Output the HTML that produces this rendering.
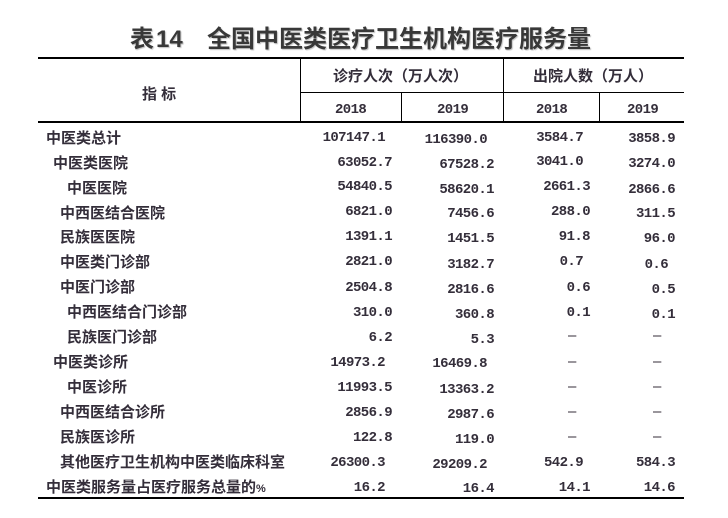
<!DOCTYPE html>
<html>
<head>
<meta charset="utf-8">
<style>
html,body{margin:0;padding:0;background:#fff;}
body{width:728px;height:518px;position:relative;overflow:hidden;}
.t{position:absolute;white-space:nowrap;font-family:"Liberation Sans","Noto Sans CJK SC",sans-serif;font-weight:bold;color:#383838;font-size:24px;line-height:24px;text-shadow:1px 1px 1px rgba(0,0,0,0.25);}
.l{position:absolute;white-space:nowrap;font-family:"Liberation Sans","Noto Sans CJK SC",sans-serif;font-weight:bold;color:#342e3a;font-size:15px;line-height:15px;}
.n{position:absolute;white-space:nowrap;font-family:"Liberation Mono",monospace;font-weight:bold;color:#342e3a;font-size:14px;line-height:13px;letter-spacing:-0.6px;text-align:right;}
.d{position:absolute;white-space:nowrap;font-family:"Liberation Sans",sans-serif;color:#342e3a;font-size:15px;line-height:15px;}
.h{position:absolute;background:#000;height:1px;}
.v{position:absolute;background:#000;width:1px;}
</style>
</head>
<body>
<!-- title -->
<div class="t" style="left:130px;top:28px;">表</div>
<div class="t" style="left:156px;top:28px;">14</div>
<div class="t" style="left:207px;top:28px;">全国中医类医疗卫生机构医疗服务量</div>

<!-- lines -->
<div class="h" style="left:38px;top:57px;width:646px;height:2px;"></div>
<div class="h" style="left:300px;top:92px;width:384px;"></div>
<div class="h" style="left:38px;top:121px;width:646px;height:2px;"></div>
<div class="h" style="left:38px;top:497px;width:646px;height:2px;"></div>
<div class="v" style="left:300px;top:58px;height:64px;"></div>
<div class="v" style="left:503px;top:58px;height:64px;"></div>
<div class="v" style="left:401px;top:92px;height:30px;"></div>
<div class="v" style="left:599px;top:92px;height:30px;"></div>

<!-- header -->
<div class="l" style="left:142px;top:87px;">指 标</div>
<div class="l" style="left:333px;top:69px;">诊疗人次（万人次）</div>
<div class="l" style="left:533px;top:69px;">出院人数（万人）</div>
<div class="n" style="left:335px;top:104px;">2018</div>
<div class="n" style="left:437px;top:104px;">2019</div>
<div class="n" style="left:536px;top:104px;">2018</div>
<div class="n" style="left:627px;top:104px;">2019</div>

<!-- labels -->
<div class="l" style="left:46px;top:131px;">中医类总计</div>
<div class="l" style="left:53px;top:156px;">中医类医院</div>
<div class="l" style="left:67px;top:181px;">中医医院</div>
<div class="l" style="left:60px;top:206px;">中西医结合医院</div>
<div class="l" style="left:60px;top:230px;">民族医医院</div>
<div class="l" style="left:60px;top:255px;">中医类门诊部</div>
<div class="l" style="left:60px;top:280px;">中医门诊部</div>
<div class="l" style="left:67px;top:305px;">中西医结合门诊部</div>
<div class="l" style="left:67px;top:330px;">民族医门诊部</div>
<div class="l" style="left:53px;top:355px;">中医类诊所</div>
<div class="l" style="left:67px;top:380px;">中医诊所</div>
<div class="l" style="left:60px;top:405px;">中西医结合诊所</div>
<div class="l" style="left:60px;top:430px;">民族医诊所</div>
<div class="l" style="left:60px;top:455px;">其他医疗卫生机构中医类临床科室</div>
<div class="l" style="left:46px;top:480px;">中医类服务量占医疗服务总量的<span style="font-size:11px;">%</span></div>

<!-- row 1 -->
<div class="n" style="right:343px;top:131.6px;">107147.1</div>
<div class="n" style="right:241px;top:134.3px;">116390.0</div>
<div class="n" style="right:145px;top:131.6px;">3584.7</div>
<div class="n" style="right:53px;top:133.3px;">3858.9</div>
<!-- row 2 -->
<div class="n" style="right:336px;top:157px;">63052.7</div>
<div class="n" style="right:234px;top:158.6px;">67528.2</div>
<div class="n" style="right:145px;top:156px;">3041.0</div>
<div class="n" style="right:53px;top:157.6px;">3274.0</div>
<!-- row 3 -->
<div class="n" style="right:336px;top:181px;">54840.5</div>
<div class="n" style="right:234px;top:183.6px;">58620.1</div>
<div class="n" style="right:138px;top:181px;">2661.3</div>
<div class="n" style="right:53px;top:183.6px;">2866.6</div>
<!-- row 4 -->
<div class="n" style="right:336px;top:206px;">6821.0</div>
<div class="n" style="right:234px;top:208.3px;">7456.6</div>
<div class="n" style="right:138px;top:206px;">288.0</div>
<div class="n" style="right:53px;top:208.3px;">311.5</div>
<!-- row 5 -->
<div class="n" style="right:336px;top:231px;">1391.1</div>
<div class="n" style="right:234px;top:233.3px;">1451.5</div>
<div class="n" style="right:138px;top:231px;">91.8</div>
<div class="n" style="right:53px;top:233.3px;">96.0</div>
<!-- row 6 -->
<div class="n" style="right:336px;top:256px;">2821.0</div>
<div class="n" style="right:234px;top:258.6px;">3182.7</div>
<div class="n" style="right:145px;top:256px;">0.7</div>
<div class="n" style="right:60px;top:258.6px;">0.6</div>
<!-- row 7 -->
<div class="n" style="right:336px;top:281.6px;">2504.8</div>
<div class="n" style="right:234px;top:283.6px;">2816.6</div>
<div class="n" style="right:138px;top:281.6px;">0.6</div>
<div class="n" style="right:53px;top:283.6px;">0.5</div>
<!-- row 8 -->
<div class="n" style="right:336px;top:306.6px;">310.0</div>
<div class="n" style="right:234px;top:308.6px;">360.8</div>
<div class="n" style="right:138px;top:306.6px;">0.1</div>
<div class="n" style="right:53px;top:308.6px;">0.1</div>
<!-- row 9 -->
<div class="n" style="right:336px;top:331.6px;">6.2</div>
<div class="n" style="right:234px;top:333.6px;">5.3</div>
<div class="d" style="left:568px;top:328px;">–</div>
<div class="d" style="left:653px;top:328px;">–</div>
<!-- row 10 -->
<div class="n" style="right:343px;top:356.6px;">14973.2</div>
<div class="n" style="right:241px;top:358.3px;">16469.8</div>
<div class="d" style="left:568px;top:353.5px;">–</div>
<div class="d" style="left:653px;top:353.5px;">–</div>
<!-- row 11 -->
<div class="n" style="right:336px;top:381.6px;">11993.5</div>
<div class="n" style="right:234px;top:383.6px;">13363.2</div>
<div class="d" style="left:568px;top:378.5px;">–</div>
<div class="d" style="left:653px;top:378.5px;">–</div>
<!-- row 12 -->
<div class="n" style="right:336px;top:407px;">2856.9</div>
<div class="n" style="right:234px;top:408.6px;">2987.6</div>
<div class="d" style="left:568px;top:403.5px;">–</div>
<div class="d" style="left:653px;top:403.5px;">–</div>
<!-- row 13 -->
<div class="n" style="right:336px;top:432px;">122.8</div>
<div class="n" style="right:234px;top:433.6px;">119.0</div>
<div class="d" style="left:568px;top:428.5px;">–</div>
<div class="d" style="left:653px;top:428.5px;">–</div>
<!-- row 14 -->
<div class="n" style="right:343px;top:457px;">26300.3</div>
<div class="n" style="right:241px;top:458.6px;">29209.2</div>
<div class="n" style="right:145px;top:457px;">542.9</div>
<div class="n" style="right:53px;top:457px;">584.3</div>
<!-- row 15 -->
<div class="n" style="right:343px;top:481.6px;">16.2</div>
<div class="n" style="right:234px;top:483.3px;">16.4</div>
<div class="n" style="right:138px;top:481.6px;">14.1</div>
<div class="n" style="right:53px;top:481.6px;">14.6</div>
</body>
</html>
